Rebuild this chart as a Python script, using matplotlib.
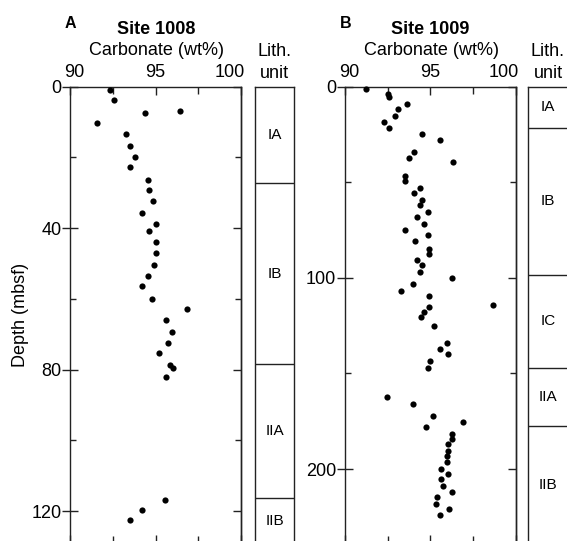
import matplotlib
matplotlib.use("Agg")
import matplotlib.pyplot as plt
import matplotlib.transforms as mtransforms
from matplotlib.ticker import MultipleLocator, FixedLocator

plt.rcParams['font.family'] = ['Liberation Sans', 'DejaVu Sans']

# ---------------- data ----------------
# Site 1008
carb_1008 = [92.34, 92.59, 94.39, 96.43, 91.56, 93.27, 93.53, 93.82, 93.53, 94.56,
             94.64, 94.85, 94.23, 95.01, 94.64, 95.01, 95.01, 94.93, 94.56, 94.23,
             94.78, 96.82, 95.63, 95.94, 95.73, 95.18, 95.87, 96.04, 95.63, 95.56,
             94.23, 93.53]
depth_1008 = [0.8, 3.9, 7.3, 6.9, 10.3, 13.3, 16.8, 19.8, 22.8, 26.3,
              29.3, 32.4, 35.8, 38.9, 40.8, 43.9, 46.9, 50.3, 53.4, 56.4,
              59.9, 62.9, 66.0, 69.4, 72.5, 75.2, 78.6, 79.4, 82.1, 116.8,
              119.8, 122.5]
units_1008 = ["IA", "IB", "IIA", "IIB"]
bounds_1008 = [0, 27.3, 78.5, 116.3]

# Site 1009
carb_1009 = [91.23, 92.54, 92.58, 93.65, 93.10, 92.95, 92.30, 92.56, 94.53, 95.57,
             94.06, 93.75, 96.33, 93.51, 93.51, 94.37, 94.04, 94.53, 94.37, 94.84,
             94.20, 94.61, 93.50, 94.84, 94.12, 94.92, 94.92, 94.20, 94.53, 94.37,
             96.25, 93.98, 93.26, 94.92, 98.69, 94.92, 94.61, 94.45, 95.23, 95.96,
             95.57, 96.03, 95.00, 94.84, 92.48, 93.98, 95.16, 96.89, 94.76, 96.27,
             96.27, 96.03, 96.03, 95.96, 95.96, 95.64, 96.03, 95.64, 95.72, 96.27,
             95.41, 95.31, 96.11, 95.57]
depth_1009 = [1.4, 3.8, 5.6, 9.0, 11.8, 15.3, 18.3, 21.8, 24.6, 28.0,
              34.3, 37.3, 39.4, 46.5, 49.3, 53.0, 55.8, 59.1, 62.0, 65.7,
              68.3, 72.0, 75.0, 77.7, 80.5, 84.7, 87.5, 90.5, 93.3, 96.8,
              99.9, 103.0, 106.7, 109.5, 114.3, 115.0, 117.8, 120.6, 125.0, 134.0,
              137.0, 139.8, 143.3, 147.0, 162.5, 166.0, 172.2, 175.2, 178.0, 181.5,
              184.3, 187.0, 190.5, 193.3, 196.3, 199.8, 202.6, 205.3, 209.0, 211.8,
              214.6, 218.3, 221.0, 223.9]
units_1009 = ["IA", "IB", "IC", "IIA", "IIB"]
bounds_1009 = [0, 21.4, 98.5, 147.1, 177.5]

x_ticks = [90, 95, 100]
x_ticklabels = ["90", "95", "100"]

W, H = 567, 541
fig = plt.figure(figsize=(W / 100, H / 100), dpi=100)

LC = '#222222'
LW = 1.0


def pos(x0, x1, ytop, ybot):
    return [x0 / W, (H - ybot) / H, (x1 - x0) / W, (ybot - ytop) / H]


def make_panel(x0, x1, ymax, ymaj, ymin, carb, depth):
    ax = fig.add_axes(pos(x0, x1, 86.7, 543))
    ax.scatter(carb, depth, s=20, color='black', zorder=3, clip_on=False, linewidths=0)
    ax.set_xlim(90, 100)
    ax.set_ylim(ymax, 0)
    for sp in ax.spines.values():
        sp.set_color(LC)
        sp.set_linewidth(LW)
    ax.xaxis.set_major_locator(FixedLocator(x_ticks))
    ax.xaxis.set_minor_locator(FixedLocator([92.5, 97.5]))
    ax.tick_params(axis='x', which='both', direction='in', top=True, bottom=True,
                   labeltop=False, labelbottom=False, color=LC, width=LW)
    ax.tick_params(axis='x', which='major', length=5.8)
    ax.tick_params(axis='x', which='minor', length=5.0)
    # top tick labels (nudged inward at the ends as in the reference)
    offsets_px = [4.5, 0, -11.5]
    trans = ax.get_xaxis_transform()
    for v, lab, dx in zip(x_ticks, x_ticklabels, offsets_px):
        t = trans + mtransforms.ScaledTranslation(dx / 100, 5.5 / 100, fig.dpi_scale_trans)
        ax.text(v, 1.0, lab, transform=t, ha='center', va='bottom', fontsize=13)
    ax.yaxis.set_major_locator(MultipleLocator(ymaj))
    ax.yaxis.set_minor_locator(MultipleLocator(ymin))
    ax.tick_params(axis='y', which='major', direction='inout', length=11.5, pad=0.5,
                   labelsize=13, left=True, right=False, color=LC, width=LW)
    ax.tick_params(axis='y', which='minor', direction='in', length=4.3,
                   left=True, right=False, color=LC, width=LW)
    sec = ax.secondary_yaxis('right')
    sec.yaxis.set_major_locator(MultipleLocator(ymaj))
    sec.yaxis.set_minor_locator(MultipleLocator(ymin))
    sec.tick_params(axis='y', which='major', direction='in', length=5.5, color=LC,
                    width=LW, labelright=False)
    sec.tick_params(axis='y', which='minor', direction='in', length=4.3, color=LC,
                    width=LW)
    sec.spines['right'].set_color(LC)
    sec.spines['right'].set_linewidth(LW)
    return ax


def make_lith(x0, x1, ymax, units, bounds):
    ax = fig.add_axes(pos(x0, x1, 86.7, 543))
    ax.set_xlim(0, 1)
    ax.set_ylim(ymax, 0)
    ax.set_xticks([])
    ax.set_yticks([])
    for sp in ax.spines.values():
        sp.set_color(LC)
        sp.set_linewidth(LW)
    edges = list(bounds) + [ymax]
    for b in bounds[1:]:
        ax.axhline(b, color=LC, lw=LW)
    for i, u in enumerate(units):
        mid = (edges[i] + edges[i + 1]) / 2
        ax.text(0.5, mid, u, ha='center', va='center', fontsize=11)
    return ax


axA = make_panel(70, 241, 129.0, 40, 20, carb_1008, depth_1008)
make_lith(255, 294, 129.0, units_1008, bounds_1008)
axB = make_panel(345, 515.7, 238.7, 100, 50, carb_1009, depth_1009)
make_lith(528, 568, 238.7, units_1009, bounds_1009)


def ftext(x, y, s, **kw):
    fig.text(x / W, 1 - y / H, s, **kw)


ftext(70, 23, "A", fontsize=11.5, fontweight='bold', ha='center', va='center')
ftext(346, 23, "B", fontsize=11.5, fontweight='bold', ha='center', va='center')
ftext(156, 29, "Site 1008", fontsize=13, fontweight='bold', ha='center', va='center')
ftext(430, 29, "Site 1009", fontsize=13, fontweight='bold', ha='center', va='center')
ftext(156.5, 50, "Carbonate (wt%)", fontsize=13, ha='center', va='center')
ftext(431, 50, "Carbonate (wt%)", fontsize=13, ha='center', va='center')
ftext(274.5, 52, "Lith.", fontsize=13, ha='center', va='center')
ftext(274.5, 74, "unit", fontsize=13, ha='center', va='center')
ftext(548, 52, "Lith.", fontsize=13, ha='center', va='center')
ftext(548, 74, "unit", fontsize=13, ha='center', va='center')
ftext(21, 315, "Depth (mbsf)", fontsize=13, rotation=90, ha='center', va='center')

fig.savefig("out.png", dpi=100)
